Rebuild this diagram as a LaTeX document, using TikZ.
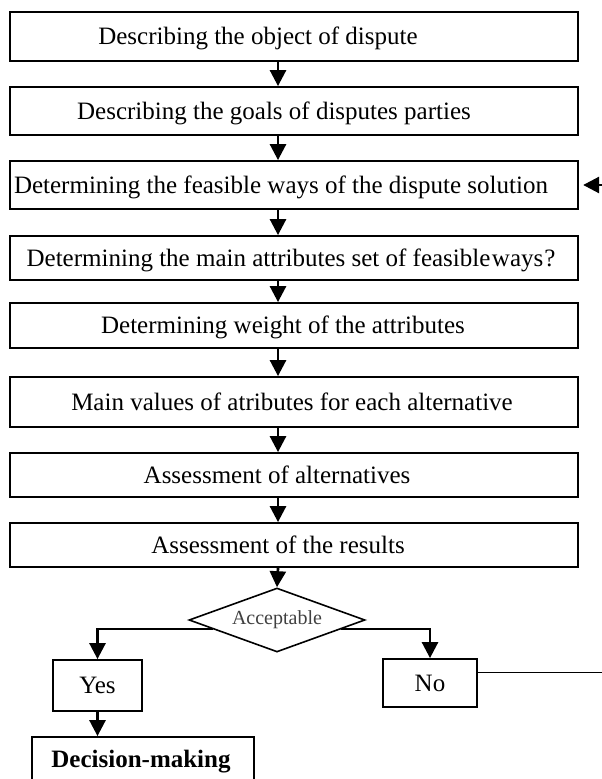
\documentclass[tikz,border=0pt]{standalone}
\usepackage{fontspec}
\setmainfont{Liberation Serif}
\usetikzlibrary{shapes.geometric,arrows.meta}
\begin{document}
\begin{tikzpicture}[x=1pt,y=-1pt,
  box/.style={draw, line width=1.8pt, inner sep=0pt, minimum width=568.5pt},
  lbl/.style={font=\fontsize{25}{29}\selectfont, inner sep=0pt, text height=0.7em, text depth=0.22em},
  arr/.style={line width=2.7pt, -{Triangle[width=16pt,length=16pt]}},
  thinline/.style={line width=1.3pt}]
\useasboundingbox (0,0) rectangle (602,779);
\clip (0,0) rectangle (602,779);
% boxes
\node[box, minimum height=49pt] (b1) at (294,36.5) {};
\node[box, minimum height=48pt] (b2) at (294,111) {};
\node[box, minimum height=48pt] (b3) at (294,185) {};
\node[box, minimum height=44pt] (b4) at (294,258) {};
\node[box, minimum height=45pt] (b5) at (294,325.5) {};
\node[box, minimum height=50pt] (b6) at (294,402) {};
\node[box, minimum height=44pt] (b7) at (294,475) {};
\node[box, minimum height=44pt] (b8) at (294,545) {};
% texts
\node[lbl] (t1) at (258,42.5) {Describing the object of dispute};
\node[lbl] (t2) at (274,117) {Describing the goals of disputes parties};
\node[lbl] (t3) at (281,191) {Determining the feasible ways of the dispute solution};
\node[lbl] (t4) at (291,264) {Determining the main attributes set of feasible\kern1.5pt ways\kern1pt?};
\node[lbl] (t5) at (283,331.5) {Determining weight of the attributes};
\node[lbl] (t6) at (292,408) {Main values of atributes for each alternative};
\node[lbl] (t7) at (277,481) {Assessment of alternatives};
\node[lbl] (t8) at (278,551) {Assessment of the results};
% decision
\node[diamond, draw, line width=1.6pt, aspect=2.75, minimum width=176pt, minimum height=64pt, inner sep=0pt,
      font=\fontsize{20}{24}\selectfont, text=black!75] (dia) at (277,620) {Acceptable};
\node[box, minimum width=89pt, minimum height=51pt] (yes) at (97.5,685.5) {};
\node[lbl] (tyes) at (97.5,691) {Yes};
\node[box, minimum width=94pt, minimum height=48pt] (no) at (430,683) {};
\node[lbl] (tno) at (430,689) {No};
\node[box, minimum width=222pt, minimum height=56pt] (dec) at (143,765) {};
\node[lbl, font=\fontsize{25}{29}\selectfont\bfseries] (tdec) at (141,765) {Decision-making};
% arrows
\coordinate (ax) at (278,0);
\draw[arr] (b1.south -| ax) -- (b2.north -| ax);
\draw[arr] (b2.south -| ax) -- (b3.north -| ax);
\draw[arr] (b3.south -| ax) -- (b4.north -| ax);
\draw[arr] (b4.south -| ax) -- (b5.north -| ax);
\draw[arr] (b5.south -| ax) -- (b6.north -| ax);
\draw[arr] (b6.south -| ax) -- (b7.north -| ax);
\draw[arr] (b7.south -| ax) -- (b8.north -| ax);
\draw[arr] (b8.south -| ax) -- (dia.north);
\draw[arr] (dia.188) -| (yes.north);
\draw[arr] (dia.-8) -| (no.north);
\draw[arr] (yes.south) -- (dec.north -| yes.south);
% feedback
\coordinate (fbr) at (612,673);
\coordinate (fbin) at (612,185);
\draw[thinline] (no.12) -- (no.12 -| fbr);
\draw[arr] (fbin) -- ([xshift=4pt]b3.east);
\end{tikzpicture}
\end{document}
